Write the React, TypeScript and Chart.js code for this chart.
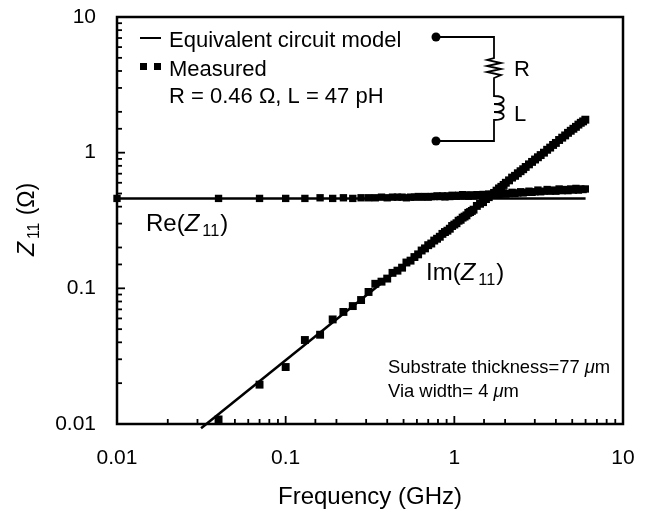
import React, { useEffect, useRef } from "react";
import { Chart, registerables } from "chart.js";

Chart.register(...registerables);

const FONT = '"Liberation Sans", Arial, sans-serif';

const measuredFreq = [0.01, 0.04, 0.07, 0.1, 0.13, 0.16, 0.19, 0.22, 0.25, 0.28, 0.31, 0.34, 0.37, 0.4, 0.43, 0.46, 0.49, 0.52, 0.55, 0.58, 0.61, 0.64, 0.67, 0.7, 0.73, 0.76, 0.79, 0.82, 0.85, 0.88, 0.91, 0.94, 0.97, 1.0, 1.03, 1.06, 1.09, 1.12, 1.15, 1.18, 1.21, 1.24, 1.27, 1.3, 1.36, 1.42, 1.48, 1.54, 1.6, 1.66, 1.72, 1.78, 1.84, 1.9, 1.96, 2.02, 2.11, 2.2, 2.29, 2.38, 2.47, 2.56, 2.65, 2.77, 2.89, 3.01, 3.13, 3.25, 3.4, 3.55, 3.7, 3.85, 4.0, 4.18, 4.36, 4.54, 4.72, 4.9, 5.08, 5.26, 5.44, 5.62, 5.8, 5.98];
const measuredRe = [0.46, 0.46, 0.46, 0.46, 0.46, 0.465, 0.46, 0.465, 0.46, 0.465, 0.465, 0.465, 0.47, 0.465, 0.47, 0.47, 0.47, 0.465, 0.47, 0.47, 0.475, 0.47, 0.475, 0.47, 0.475, 0.475, 0.48, 0.475, 0.48, 0.472, 0.48, 0.475, 0.485, 0.48, 0.478, 0.485, 0.48, 0.49, 0.482, 0.485, 0.478, 0.488, 0.484, 0.48, 0.49, 0.485, 0.492, 0.49, 0.495, 0.488, 0.495, 0.5, 0.49, 0.498, 0.505, 0.495, 0.5, 0.51, 0.5, 0.505, 0.515, 0.505, 0.51, 0.52, 0.51, 0.515, 0.53, 0.515, 0.52, 0.535, 0.52, 0.53, 0.52, 0.54, 0.525, 0.535, 0.525, 0.54, 0.53, 0.545, 0.53, 0.54, 0.535, 0.54];
const measuredIm = [0.0085, 0.0108, 0.0195, 0.0263, 0.0416, 0.0455, 0.059, 0.067, 0.074, 0.082, 0.094, 0.108, 0.112, 0.118, 0.13, 0.135, 0.142, 0.155, 0.16, 0.17, 0.178, 0.19, 0.197, 0.208, 0.214, 0.225, 0.232, 0.24, 0.252, 0.26, 0.266, 0.275, 0.288, 0.295, 0.302, 0.315, 0.32, 0.332, 0.338, 0.345, 0.36, 0.365, 0.372, 0.38, 0.405, 0.42, 0.432, 0.455, 0.47, 0.49, 0.505, 0.525, 0.545, 0.56, 0.578, 0.6, 0.625, 0.655, 0.675, 0.705, 0.73, 0.755, 0.785, 0.82, 0.855, 0.89, 0.925, 0.96, 1.0, 1.05, 1.09, 1.14, 1.18, 1.24, 1.29, 1.34, 1.4, 1.45, 1.5, 1.55, 1.61, 1.66, 1.7, 1.75];

const modelFreqRe = [0.01, 6];
const modelRe = [0.46, 0.46];
const modelFreqIm = [0.0315, 6];
const modelIm = [0.0093, 1.77];

const tickLabels = ["0.01", "0.1", "1", "10"];

const isDecade = (v: number) => Math.abs(Math.log10(v) - Math.round(Math.log10(v))) < 1e-6;
const decadeLabel = (v: number) => {
  if (!isDecade(v)) return "";
  return tickLabels[Math.round(Math.log10(v)) + 2] ?? "";
};

type Seg = { t: string; i?: boolean; sub?: boolean };

function rich(ctx: CanvasRenderingContext2D, segs: Seg[], x: number, y: number, size: number) {
  let cx = x;
  ctx.textAlign = "left";
  ctx.textBaseline = "alphabetic";
  for (const s of segs) {
    const sz = s.sub ? size * 0.68 : size;
    ctx.font = `${s.i ? "italic " : ""}${sz}px ${FONT}`;
    if (s.sub) cx += 3;
    ctx.fillText(s.t, cx, s.sub ? y + size * 0.2 : y);
    cx += ctx.measureText(s.t).width;
    if (s.sub) cx += 1;
  }
}

const decor = {
  id: "decor",
  afterDatasetsDraw(chart: any) {
    const { ctx, chartArea: a, scales } = chart;
    ctx.save();
    ctx.strokeStyle = "#000";
    ctx.fillStyle = "#000";
    // frame
    ctx.lineWidth = 2.5;
    ctx.strokeRect(a.left, a.top, a.right - a.left, a.bottom - a.top);
    // inward ticks
    ctx.lineWidth = 1.8;
    for (const t of scales.x.ticks) {
      const px = scales.x.getPixelForValue(t.value);
      const len = isDecade(t.value) ? 8 : 5;
      ctx.beginPath();
      ctx.moveTo(px, a.bottom);
      ctx.lineTo(px, a.bottom - len);
      ctx.stroke();
    }
    for (const t of scales.y.ticks) {
      const py = scales.y.getPixelForValue(t.value);
      const len = isDecade(t.value) ? 8 : 5;
      ctx.beginPath();
      ctx.moveTo(a.left, py);
      ctx.lineTo(a.left + len, py);
      ctx.stroke();
    }
    // legend
    ctx.lineWidth = 2;
    ctx.beginPath();
    ctx.moveTo(140, 38);
    ctx.lineTo(161, 38);
    ctx.stroke();
    ctx.fillRect(140, 63, 7, 7);
    ctx.fillRect(154, 63, 7, 7);
    rich(ctx, [{ t: "Equivalent circuit model" }], 169, 47, 22);
    rich(ctx, [{ t: "Measured" }], 169, 76, 22);
    rich(ctx, [{ t: "R = 0.46 Ω, L = 47 pH" }], 169, 103, 22);
    // circuit
    ctx.lineWidth = 1.8;
    ctx.beginPath();
    ctx.moveTo(436, 37);
    ctx.lineTo(494, 37);
    ctx.lineTo(494, 58);
    const zig = [487, 501, 487, 501, 487, 501, 494];
    zig.forEach((zx, k) => ctx.lineTo(zx, 60 + k * 3));
    ctx.lineTo(494, 96);
    for (let k = 0; k < 3; k++) {
      ctx.bezierCurveTo(507, 96 + k * 8, 507, 104 + k * 8, 494, 104 + k * 8);
    }
    ctx.lineTo(494, 141);
    ctx.lineTo(436, 141);
    ctx.stroke();
    ctx.beginPath();
    ctx.arc(436, 37, 4.5, 0, Math.PI * 2);
    ctx.fill();
    ctx.beginPath();
    ctx.arc(436, 141, 4.5, 0, Math.PI * 2);
    ctx.fill();
    rich(ctx, [{ t: "R" }], 514, 76, 22);
    rich(ctx, [{ t: "L" }], 514, 121, 22);
    // annotations
    rich(ctx, [{ t: "Re(" }, { t: "Z", i: true }, { t: "11", sub: true }, { t: ")" }], 146, 231, 24);
    rich(ctx, [{ t: "Im(" }, { t: "Z", i: true }, { t: "11", sub: true }, { t: ")" }], 426, 280, 24);
    rich(ctx, [{ t: "Substrate thickness=77 " }, { t: "μ", i: true }, { t: "m" }], 388, 373, 18.4);
    rich(ctx, [{ t: "Via width= 4 " }, { t: "μ", i: true }, { t: "m" }], 388, 397, 18.4);
    // y title
    ctx.translate(34, 256);
    ctx.rotate(-Math.PI / 2);
    rich(ctx, [{ t: "Z", i: true }, { t: "11", sub: true }, { t: " (Ω)" }], 0, 0, 23);
    ctx.restore();
  },
};

export default function App() {
  const ref = useRef<HTMLCanvasElement>(null);
  useEffect(() => {
    const chart = new Chart(ref.current!, {
      type: "scatter",
      plugins: [decor],
      data: {
        datasets: [
          {
            label: "Re model",
            data: modelFreqRe.map((x, i) => ({ x, y: modelRe[i] })),
            showLine: true, pointRadius: 0, borderColor: "#000", borderWidth: 2.5, clip: false,
          },
          {
            label: "Im model",
            data: modelFreqIm.map((x, i) => ({ x, y: modelIm[i] })),
            showLine: true, pointRadius: 0, borderColor: "#000", borderWidth: 2.5, clip: false,
          },
          {
            label: "Re measured",
            data: measuredFreq.map((x, i) => ({ x, y: measuredRe[i] })),
            pointStyle: "rect", pointRadius: 5.2, backgroundColor: "#000", borderColor: "#000", borderWidth: 0, clip: false,
          },
          {
            label: "Im measured",
            data: measuredFreq.slice(1).map((x, i) => ({ x, y: measuredIm[i + 1] })),
            pointStyle: "rect", pointRadius: 5.6, backgroundColor: "#000", borderColor: "#000", borderWidth: 0, clip: false,
          },
        ],
      },
      options: {
        responsive: false,
        animation: false,
        events: [],
        layout: { padding: { left: 0, top: 17, right: 23, bottom: 0 } },
        plugins: { legend: { display: false }, tooltip: { enabled: false } },
        scales: {
          x: {
            type: "logarithmic",
            min: 0.01,
            max: 10,
            afterFit: (s: any) => { s.height = 88; s.paddingLeft = 0; s.paddingRight = 0; },
            grid: { display: false },
            border: { display: false },
            title: { display: true, text: "Frequency (GHz)", color: "#000", font: { family: FONT, size: 24 }, padding: { top: 0, bottom: 0 } },
            ticks: {
              autoSkip: false, maxRotation: 0, minRotation: 0, padding: 14, color: "#000",
              font: { family: FONT, size: 21 },
              callback: (v: any) => decadeLabel(Number(v)),
            },
          },
          y: {
            type: "logarithmic",
            min: 0.01,
            max: 10,
            afterFit: (s: any) => { s.width = 117; s.paddingTop = 0; s.paddingBottom = 0; },
            grid: { display: false },
            border: { display: false },
            ticks: {
              autoSkip: false, padding: 13, color: "#000",
              font: { family: FONT, size: 21 },
              callback: (v: any) => decadeLabel(Number(v)),
            },
          },
        },
      },
    } as any);
    return () => chart.destroy();
  }, []);
  return (
    <div style={{ position: "absolute", left: 0, top: 0, width: 646, height: 512, background: "#fff" }}>
      <canvas ref={ref} width={646} height={512} style={{ display: "block" }} />
    </div>
  );
}
